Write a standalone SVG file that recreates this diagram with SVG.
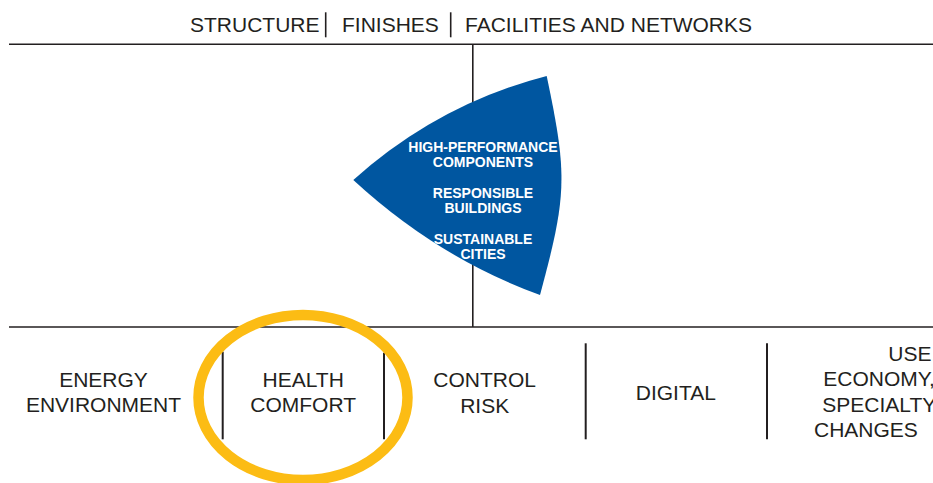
<svg xmlns="http://www.w3.org/2000/svg" width="933" height="483" viewBox="0 0 933 483">
  <style>
    .lbl { font-family: "Liberation Sans", Arial, sans-serif; font-size: 21px; fill: #231f20; }
    .mid { text-anchor: middle; }
    .inner { font-family: "Liberation Sans", Arial, sans-serif; font-size: 14px; font-weight: bold; fill: #ffffff; text-anchor: middle; }
    .rule { stroke: #231f20; stroke-width: 1.6; fill: none; }
    .div { stroke: #231f20; stroke-width: 2; fill: none; }
  </style>
  <rect width="933" height="483" fill="#ffffff"/>

  <g id="header">
    <text class="lbl" x="190" y="32">STRUCTURE</text>
    <text class="lbl" x="342" y="32">FINISHES</text>
    <text class="lbl" x="465" y="32">FACILITIES AND NETWORKS</text>
    <line class="rule" x1="325.7" y1="12.3" x2="325.7" y2="37.3"/>
    <line class="rule" x1="450.7" y1="12.3" x2="450.7" y2="37.3"/>
  </g>

  <g id="connectors">
    <line class="rule" x1="9" y1="44.3" x2="933" y2="44.3"/>
    <line class="rule" x1="9" y1="327" x2="933" y2="327"/>
    <line class="rule" x1="472.8" y1="44.3" x2="472.8" y2="327"/>
    <line class="div" x1="222.7" y1="351.7" x2="222.7" y2="439.3"/>
    <line class="div" x1="384" y1="352.7" x2="384" y2="439.3"/>
    <line class="div" x1="585.7" y1="343.3" x2="585.7" y2="439.3"/>
    <line class="div" x1="767" y1="343.3" x2="767" y2="439.3"/>
  </g>

  <g id="core">
    <path d="M353.3,180 Q438,104 546.7,76 C567.7,176 567,195 540,295 Q438,258 353.3,180 Z" fill="#0056a0"/>
    <text class="inner" x="483" y="151.7">HIGH-PERFORMANCE</text>
    <text class="inner" x="483" y="166.7">COMPONENTS</text>
    <text class="inner" x="483" y="197.7">RESPONSIBLE</text>
    <text class="inner" x="483" y="212.7">BUILDINGS</text>
    <text class="inner" x="483" y="244.3">SUSTAINABLE</text>
    <text class="inner" x="483" y="259.3">CITIES</text>
  </g>

  <g id="energy">
    <text class="lbl mid" x="103.5" y="387">ENERGY</text>
    <text class="lbl mid" x="103.5" y="412.3">ENVIRONMENT</text>
  </g>

  <g id="health">
    <text class="lbl mid" x="303.2" y="387">HEALTH</text>
    <text class="lbl mid" x="303.2" y="412.3">COMFORT</text>
  </g>

  <g id="control">
    <text class="lbl mid" x="484.7" y="386.7">CONTROL</text>
    <text class="lbl mid" x="484.7" y="412.7">RISK</text>
  </g>

  <g id="digital">
    <text class="lbl mid" x="675.8" y="400">DIGITAL</text>
  </g>

  <g id="use">
    <text class="lbl" x="888.3" y="361">USE,</text>
    <text class="lbl" x="823.3" y="386">ECONOMY,</text>
    <text class="lbl" x="822.3" y="411.5">SPECIALTY</text>
    <text class="lbl" x="814" y="437.3">CHANGES</text>
  </g>

  <g id="highlight">
    <ellipse cx="303" cy="397.5" rx="104.5" ry="82.5" fill="none" stroke="#fcbc14" stroke-width="10.5"/>
  </g>
</svg>
